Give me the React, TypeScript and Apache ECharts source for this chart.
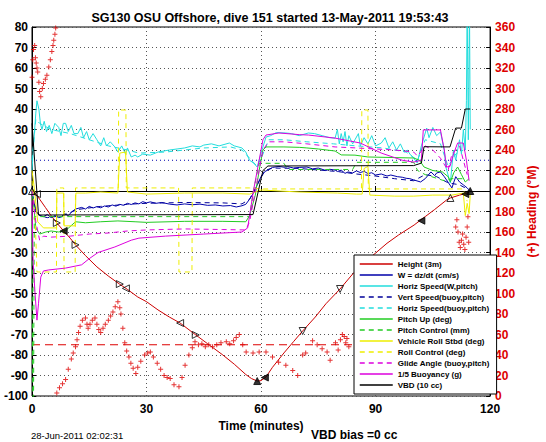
import React, { useEffect, useRef } from "react";
import * as echarts from "echarts";

const FONT = '"Liberation Sans", Arial, Helvetica, sans-serif';

const titleText = "SG130 OSU Offshore, dive 151 started 13-May-2011 19:53:43";
const xAxisName = "Time (minutes)";
const rightAxisName = "(+) Heading (\u00B0M)";
const footLeft = "28-Jun-2011 02:02:31";
const footMid = "VBD bias =0 cc";

const legendNames = [
  "Height (3m)",
  "W = dz/dt (cm/s)",
  "Horiz Speed(W,pitch)",
  "Vert Speed(buoy,pitch)",
  "Horiz Speed(buoy,pitch)",
  "Pitch Up (deg)",
  "Pitch Control (mm)",
  "Vehicle Roll Stbd (deg)",
  "Roll Control (deg)",
  "Glide Angle (buoy,pitch)",
  "1/5 Buoyancy (g)",
  "VBD (10 cc)",
];

const timeSpan = [0, 120];
const wTarget = 15;
const headingTarget = 50;

const heightData = [
  [0, 0], [0.8, -1], [2, -4], [3.5, -8], [5, -12], [6.5, -15.6], [8.3, -19.5], [10, -23], [11.4, -26.3],
  [14, -31.5], [17, -37], [20, -41.5], [23, -45.5], [25, -48], [27.7, -51.7], [30, -54], [33, -58],
  [36, -61.5], [38.8, -64.4], [42.9, -70.2], [46, -74.5], [50, -80], [53, -84.5], [56, -89.5],
  [57.5, -91.5], [59, -92.7], [60, -92.5], [61.3, -90.7], [63, -86], [66, -79], [68.5, -73.5],
  [70.9, -68.3], [74.2, -61.5], [77, -55], [80.7, -47.8], [84, -40.5], [87, -35], [90.3, -29.8],
  [93, -25.5], [96, -21.5], [100.1, -16.6], [103, -12.5], [105.5, -9], [108.6, -4.4], [109.6, -3.4],
  [112, -2], [114, -1], [114.8, 0],
];

const gcT = [0, 1.3, 6.5, 8.3, 11.4, 23, 24.6, 38.8, 42.9, 59, 61, 70.9, 80.7, 102, 109.6, 113.5, 114.8];
const gcV = [0, -1.5, -15.6, -19.5, -26.3, -45.4, -47.5, -64.4, -70.2, -92.7, -91, -68.3, -47.8, -14.5, -3.4, -1.5, 0];
const gcRot = [0, 90, -90, 90, -90, -90, 90, 90, -90, 0, 90, 180, 180, 90, 0, 90, 0];
const gcFilled = [0, 0, 0, 1, 0, 0, 0, 0, 0, 1, 1, 0, 0, 1, 0, 1, 1];

const wData = [
  [0, 0], [0.5, -5], [1, -10], [1.8, -11.7], [3, -12.5], [4, -11.5], [5, -13], [6, -12], [7, -13],
  [7.8, -12.6], [8.5, -11], [9.5, -12], [10.5, -10], [11.4, -8.8], [13, -8], [14, -8.8], [15, -7.5],
  [16, -8.3], [17, -7.6], [18, -8.2], [19, -7.3], [20, -7.8], [21, -6.8], [22, -7.4], [23, -6.5],
  [24, -7], [25, -6], [26, -6.6], [27, -5.8], [28, -6.3], [29, -5.2], [30, -5.8], [31, -5.3],
  [32.5, -6], [34, -5.6], [36, -6.4], [38, -6.8], [40, -6.3], [42, -6.7], [44, -6.4], [46, -7],
  [48, -6.8], [50, -7.3], [52, -7.1], [53.5, -7.8], [55, -7.2], [56, -6.5], [57, -4], [58, -1],
  [59, 3], [60, 7], [61, 9.5], [61.8, 10.2], [63, 11.5], [64.7, 12], [66, 11.6], [67, 11.9],
  [68.5, 11.2], [70, 11.5], [72, 11.7], [73.5, 10.8], [75, 11.2], [77, 10], [78, 10.6], [79.4, 10.2],
  [80, 9.5], [81, 10.2], [82, 8.6], [82.8, 9.3], [84, 8.8], [85, 9.8], [86, 9], [87, 9.6], [88, 8.5],
  [89, 8.9], [90, 7.8], [91.5, 8.3], [93, 7.3], [94, 7.8], [95.7, 7], [97, 6.7], [98, 6.2],
  [99, 6], [100, 5.4], [101.8, 4.4], [103, 6], [104.5, 9.3], [105.5, 7.5], [106, 8.8], [107, 9.3],
  [108, 7], [108.6, 5.4], [110, 1.5], [111, 7], [112, 4.4], [113, 3], [114, 1.5], [114.8, 0],
];

const vertSpeedData = [
  [0, -2], [1, -9], [2, -12], [4, -13], [8, -12], [12, -9], [18, -7.5], [25, -6.5], [30, -6],
  [40, -5.6], [50, -5.8], [55, -6.3], [57, -4], [59, 3], [61, 10], [63, 11.2], [70, 11],
  [80, 9.5], [85, 8.3], [90, 7.3], [95, 6], [100, 5], [103, 8], [106, 7], [109, 4], [112, 3], [114, 1],
];

const horizSpeedData = [
  [0, 10], [0.5, 25], [1, 38], [1.3, 44], [1.8, 40], [2.2, 33], [2.6, 30], [3.2, 34], [3.8, 29],
  [4.5, 32], [5.2, 28], [6, 33], [7, 31], [7.6, 27], [8.2, 33], [8.8, 33], [9.5, 29], [10.3, 32],
  [11, 28], [12, 28], [12.8, 31], [13.5, 26], [14.3, 29], [15, 25], [16, 28], [17, 25], [18, 22],
  [18.8, 26], [19.5, 22], [20.5, 24], [21.7, 21.5], [22.5, 19], [23.5, 22], [24.5, 18], [25, 21],
  [26, 16.6], [27, 17.5], [27.7, 16.6], [29, 18], [31, 17.5], [33, 19], [36, 20], [38, 20.5],
  [40, 21], [42, 22], [44, 21.5], [45, 22.4], [47, 23], [49, 22], [51.7, 23.4], [53, 22],
  [55, 21], [56, 19], [57, 15], [58, 13.7], [59, 11.7], [60, 18.5], [61.3, 26.3], [62.5, 27],
  [64, 28.5], [66.5, 28.3], [68, 28], [70, 27], [72.4, 28.3], [74, 28], [76, 27], [78, 26],
  [79.4, 25.8], [80, 30], [80.5, 23], [81, 28], [81.5, 24], [82, 29], [82.5, 22], [83, 27],
  [84, 23], [84.6, 25], [85.5, 28], [86, 22], [87, 26], [88, 23], [89, 27], [90, 22], [91.5, 23.4],
  [92.5, 26], [93.5, 21], [94.5, 24], [95.5, 20], [96.5, 23], [97.5, 19], [98.3, 20], [99, 18],
  [100, 16], [100.9, 13.7], [102, 22], [103.4, 30.7], [104, 26], [105, 31], [106, 27], [107, 28.8],
  [108, 20], [108.4, 11.7], [109.6, 3.9], [110.4, 20], [111, 15], [112, 25], [112.5, 18], [113, 30],
  [113.5, 20], [113.8, 44], [114.0, 90], [114.3, 25], [114.6, 90], [114.8, 30],
];

const horizBuoyData = [
  [0, 15], [1, 35], [2, 33], [5, 30], [10, 28], [15, 25], [20, 22], [25, 20], [28, 18.5], [35, 19],
  [45, 21], [52, 21.5], [55, 20], [57, 16], [59, 12], [60.5, 18], [62, 25], [66, 25], [72, 24],
  [79, 23], [85, 22], [92, 21], [98, 19], [101, 15], [103, 25], [107, 23], [109, 12], [111, 18], [113, 20],
];

const pitchData = [
  [0, 0], [0.5, -8], [1, -18], [2, -21], [3.6, -20], [5, -19.5], [7, -20], [9, -19], [11.4, -15],
  [14, -15.5], [18, -15], [22.5, -14.6], [27, -15], [30, -15.3], [40, -14.8], [50, -14.8], [56, -15],
  [57, -12], [58.5, -2], [59.5, 10], [60.5, 20], [61.3, 21.5], [66, 21.5], [70, 21.3], [72, 21],
  [75, 20.5], [79.4, 19.5], [81, 17.6], [84.6, 17.5], [88, 16.6], [95, 16.3], [100, 16.1],
  [101.5, 15], [102.7, 11.7], [105, 10], [107.5, 9.3], [109, 7], [109.6, 4.4], [110.5, 9],
  [111.5, 11.7], [112.5, 8], [113.5, 4.4], [114.5, 6],
];

const pitchCtlData = [
  [0, -12], [0.2, -105], [0.4, -105], [0.6, -12.5], [57, -12.5], [58, 0], [59.5, 13.5], [66, 13.5],
  [67, 10.5], [84, 10.5], [85, 14], [100, 14], [101, 10], [103, 8], [108, 5], [110, 6], [113, 6],
];

const rollData = [
  [0, 10], [0.5, 3], [1.5, -15], [3, -18], [6.4, -18], [6.5, -1], [8.3, -1], [8.4, -17], [11.3, -17],
  [11.5, -1], [14, -1], [18, -0.5], [22.5, -1], [23, 18.5], [24.5, 19], [25, -0.5], [30, -1.5],
  [40, -1], [50, -1], [57, -1.5], [60, 0.5], [65, 0], [70, -0.5], [80, -1], [85, -1.5], [86.5, -1.5],
  [87, 11], [88, 12], [88.5, -2], [95, -2.5], [100, -2.5], [105, -2], [110, -2], [113, -1],
  [113.5, -12], [114, -6], [114.5, -11], [114.8, -2],
];

const rollCtlData = [
  [0, 5], [0.8, -12], [1.3, -39.5], [6.4, -39.5], [6.5, 1.5], [8.3, 1.5], [8.4, -39.5], [11.3, -39.5],
  [11.4, 1.5], [22.6, 1.5], [22.7, 39.5], [24.6, 39.5], [24.7, 1.5], [38.4, 1.5], [38.5, -39.5],
  [41.9, -39.5], [42, 1.5], [57, 1.5], [60, 1], [86.3, 1], [86.4, 39.5], [88, 39.5], [88.1, 1],
  [113, 1], [114, -5],
];

const glideData = [
  [0, 0], [1, -15], [2, -24], [3, -22], [5, -22.5], [10, -22], [15, -21], [20, -20.5], [25, -19.5],
  [30, -19], [40, -18.5], [50, -18.8], [56, -19], [57, -15], [59, 5], [60.5, 20], [62, 24], [66, 24],
  [72, 23], [79.4, 21.5], [85, 21], [90, 20.5], [95, 20], [100, 19], [101, 17], [103, 22], [105, 20],
  [107, 16], [109, 10], [110, 18], [112, 22], [113, 15], [114, 8],
];

const buoyData = [
  [0, -5], [0.3, -35], [0.8, -50], [1.3, -63], [1.7, -55], [2.3, -42], [3, -39], [4.4, -38.5],
  [8.8, -37.6], [13, -36], [15, -33], [17.3, -30], [21.7, -27.3], [26, -24], [28, -23], [35, -22],
  [45, -21], [55, -20], [56.5, -18], [58, 0], [59.5, 15], [60.5, 25], [61.3, 27.3], [64.7, 28.3],
  [70, 27.5], [72.4, 27.3], [79.4, 25.8], [83, 24.5], [86, 23.4], [91.5, 18.5], [97, 15], [100, 14.1],
  [102, 15], [102.5, 29.8], [107, 29.8], [108, 20], [108.6, 11.7], [109.5, 12], [110.5, 18.5],
  [111.5, 23.4], [113, 23.4], [113.8, 15], [114.5, 5],
];

const vbdData = [
  [0, 33], [1.7, -11.7], [57.9, -11.5], [60.5, 10], [61.8, 12.2], [100, 12.4], [102, 13.6],
  [102.7, 21.6], [109.5, 21.5], [111, 30.7], [112.5, 30.7], [113.5, 40], [114.8, 40],
];

const headingData = [
  [0, 311], [0.2, 328], [0.4, 338], [0.7, 342], [0.9, 330], [1.1, 325], [1.3, 320], [1.5, 316],
  [1.8, 306], [2, 297], [2.3, 292], [2.7, 300], [3, 305], [3.5, 309], [3.9, 313], [4.4, 321],
  [4.8, 328], [5.2, 336], [5.5, 342], [5.7, 347], [6, 353], [6.2, 359],
  [6.5, 3], [7.2, 8], [8, 12], [8.8, 16], [9.5, 26], [10.3, 36], [10.8, 42], [11.4, 48], [11.8, 55],
  [12.2, 62], [12.6, 68], [13.2, 74], [14, 76], [14.4, 70], [14.7, 66], [15.2, 70], [15.8, 74],
  [16.5, 76], [17, 70], [17.5, 65], [18, 62], [18.6, 66], [19.2, 70], [20, 74], [20.6, 78],
  [21.2, 82], [21.8, 87], [22.5, 92], [23, 86], [23.3, 80], [23.8, 66], [24.3, 52], [24.8, 44],
  [25.4, 38], [25.9, 32], [26.5, 27], [27.2, 22], [27.7, 28], [28.5, 34], [29.5, 40], [30.3, 42],
  [31, 43], [31.8, 38], [32.8, 32], [33.7, 26], [34.6, 20], [35.4, 18], [36.2, 17], [37.2, 11],
  [38.5, 9], [39.3, 18], [40.1, 30], [41.1, 40], [42, 47], [42.7, 53], [43.6, 50], [44.5, 51],
  [45.4, 48], [46.3, 50], [47.3, 48], [48.4, 50], [49.5, 52], [50.9, 53], [51.8, 51], [52.8, 54],
  [53.5, 57], [54.3, 60], [55.2, 50], [56.1, 43], [57.9, 42], [59.5, 43], [61.3, 43], [63, 38],
  [64.6, 33], [66.5, 30], [68.3, 25], [69.6, 20], [70.9, 40], [71.7, 42], [73.5, 54], [74.7, 50],
  [76, 46], [77.3, 43], [78.1, 35], [79.5, 52], [80.2, 45], [80.8, 55], [81.3, 60], [81.8, 58],
  [82.2, 52], [82.5, 56], [83, 48],
  [111, 165], [111.3, 172], [111.6, 160], [111.9, 150], [112.2, 145], [112.5, 152], [112.8, 158],
  [113.1, 148], [113.4, 143], [113.7, 155], [114, 165], [114.2, 175], [114.4, 150],
];

const plusPath = "path://M2,0H3V2H5V3H3V5H2V3H0V2H2Z";

function lineSeries(name: string, data: number[][], color: string, dashed = false, width = 1) {
  return {
    name,
    type: "line",
    data,
    symbol: "none",
    showSymbol: false,
    lineStyle: { color, width, type: dashed ? [5, 4] : "solid" },
    itemStyle: { color },
    z: 3,
  };
}

export default function App() {
  const ref = useRef<HTMLDivElement>(null);
  useEffect(() => {
    if (!ref.current) return;
    const chart = echarts.init(ref.current, undefined, { renderer: "svg" });
    const gcData = gcT.map((t, i) => ({
      value: [t, gcV[i]],
      symbolRotate: gcRot[i],
      itemStyle: { color: gcFilled[i] ? "#000" : "rgba(0,0,0,0)", borderColor: "#000", borderWidth: 1 },
    }));
    const option: any = {
      animation: false,
      backgroundColor: "#fff",
      textStyle: { fontFamily: FONT },
      title: {
        text: titleText,
        left: 265,
        top: 6,
        textAlign: "center",
        textStyle: { fontFamily: FONT, fontSize: 12.5, fontWeight: "bold", color: "#000" },
      },
      grid: { left: 32, right: 49, top: 27, bottom: 46, show: true, borderColor: "#000", borderWidth: 1, backgroundColor: "transparent" },
      legend: {
        data: legendNames,
        orient: "vertical",
        left: 354,
        top: 255,
        itemWidth: 33,
        itemHeight: 8,
        itemGap: 3,
        padding: [5, 7, 5, 5],
        backgroundColor: "#fff",
        borderColor: "#000",
        borderWidth: 1,
        selectedMode: false,
        itemStyle: { opacity: 0 },
        lineStyle: { width: 1.5 },
        textStyle: { fontFamily: FONT, fontSize: 8, fontWeight: "bold", color: "#000" },
      },
      xAxis: {
        type: "value",
        min: 0,
        max: 120,
        interval: 30,
        name: xAxisName,
        nameLocation: "middle",
        nameGap: 19,
        nameTextStyle: { fontFamily: FONT, fontSize: 12, fontWeight: "bold", color: "#000" },
        axisLine: { show: true, lineStyle: { color: "#000" } },
        axisTick: { inside: true, length: 5, lineStyle: { color: "#000" } },
        axisLabel: { fontFamily: FONT, fontSize: 12, fontWeight: "bold", color: "#000", margin: 7 },
        splitLine: { show: true, lineStyle: { color: "#555", type: [1, 3], width: 1 } },
      },
      yAxis: [
        {
          type: "value",
          min: -100,
          max: 80,
          interval: 10,
          axisLine: { show: true, lineStyle: { color: "#000" } },
          axisTick: { show: true, inside: true, length: 4, lineStyle: { color: "#000" } },
          axisLabel: { fontFamily: FONT, fontSize: 12, fontWeight: "bold", color: "#000", margin: 4 },
          splitLine: { show: true, lineStyle: { color: "#555", type: [1, 3], width: 1 } },
        },
        {
          type: "value",
          min: 0,
          max: 360,
          interval: 20,
          position: "right",
          name: rightAxisName,
          nameLocation: "middle",
          nameRotate: 90,
          nameGap: 30,
          nameTextStyle: { fontFamily: FONT, fontSize: 12, fontWeight: "bold", color: "#dd0000" },
          axisLine: { show: true, lineStyle: { color: "#000" } },
          axisTick: { show: true, inside: true, length: 4, lineStyle: { color: "#000" } },
          axisLabel: { fontFamily: FONT, fontSize: 12, fontWeight: "bold", color: "#dd0000", margin: 5 },
          splitLine: { show: false },
        },
      ],
      series: [
        {
          name: "Heading",
          type: "scatter",
          yAxisIndex: 1,
          data: headingData,
          symbol: plusPath,
          symbolSize: 5,
          itemStyle: { color: "#dd0000" },
          z: 2,
        },
        {
          name: "Heading target",
          type: "line",
          yAxisIndex: 1,
          data: timeSpan.map((t) => [t, headingTarget]),
          symbol: "none",
          lineStyle: { color: "#dd0000", type: [8, 5], width: 1 },
          z: 2,
        },
        {
          name: "W target",
          type: "line",
          data: timeSpan.map((t) => [t, wTarget]),
          symbol: "none",
          lineStyle: { color: "#0000aa", type: [1, 3], width: 1 },
          z: 2,
        },
        lineSeries(legendNames[0], heightData, "#cc0000"),
        lineSeries(legendNames[1], wData, "#0000aa"),
        lineSeries(legendNames[2], horizSpeedData, "#22dddd"),
        lineSeries(legendNames[3], vertSpeedData, "#000099", true),
        lineSeries(legendNames[4], horizBuoyData, "#22dddd", true),
        lineSeries(legendNames[5], pitchData, "#22cc22"),
        lineSeries(legendNames[6], pitchCtlData, "#22cc22", true),
        lineSeries(legendNames[7], rollData, "#eeee00"),
        lineSeries(legendNames[8], rollCtlData, "#eeee00", true),
        lineSeries(legendNames[9], glideData, "#dd00dd", true),
        lineSeries(legendNames[10], buoyData, "#dd00dd"),
        lineSeries(legendNames[11], vbdData, "#000000"),
        {
          name: "GC",
          type: "scatter",
          data: gcData,
          symbol: "triangle",
          symbolSize: 7,
          z: 4,
        },
      ],
      graphic: [
        {
          type: "text",
          left: 31,
          top: 430,
          style: { text: footLeft, font: `normal 9.5px ${FONT}`, fill: "#000" },
        },
        {
          type: "text",
          left: 311,
          top: 429,
          style: { text: footMid, font: `bold 12px ${FONT}`, fill: "#000" },
        },
      ],
    };
    chart.setOption(option);
    return () => chart.dispose();
  }, []);
  return (
    <div
      ref={ref}
      style={{ position: "fixed", left: 0, top: 0, width: 546, height: 442, background: "#fff" }}
    />
  );
}
